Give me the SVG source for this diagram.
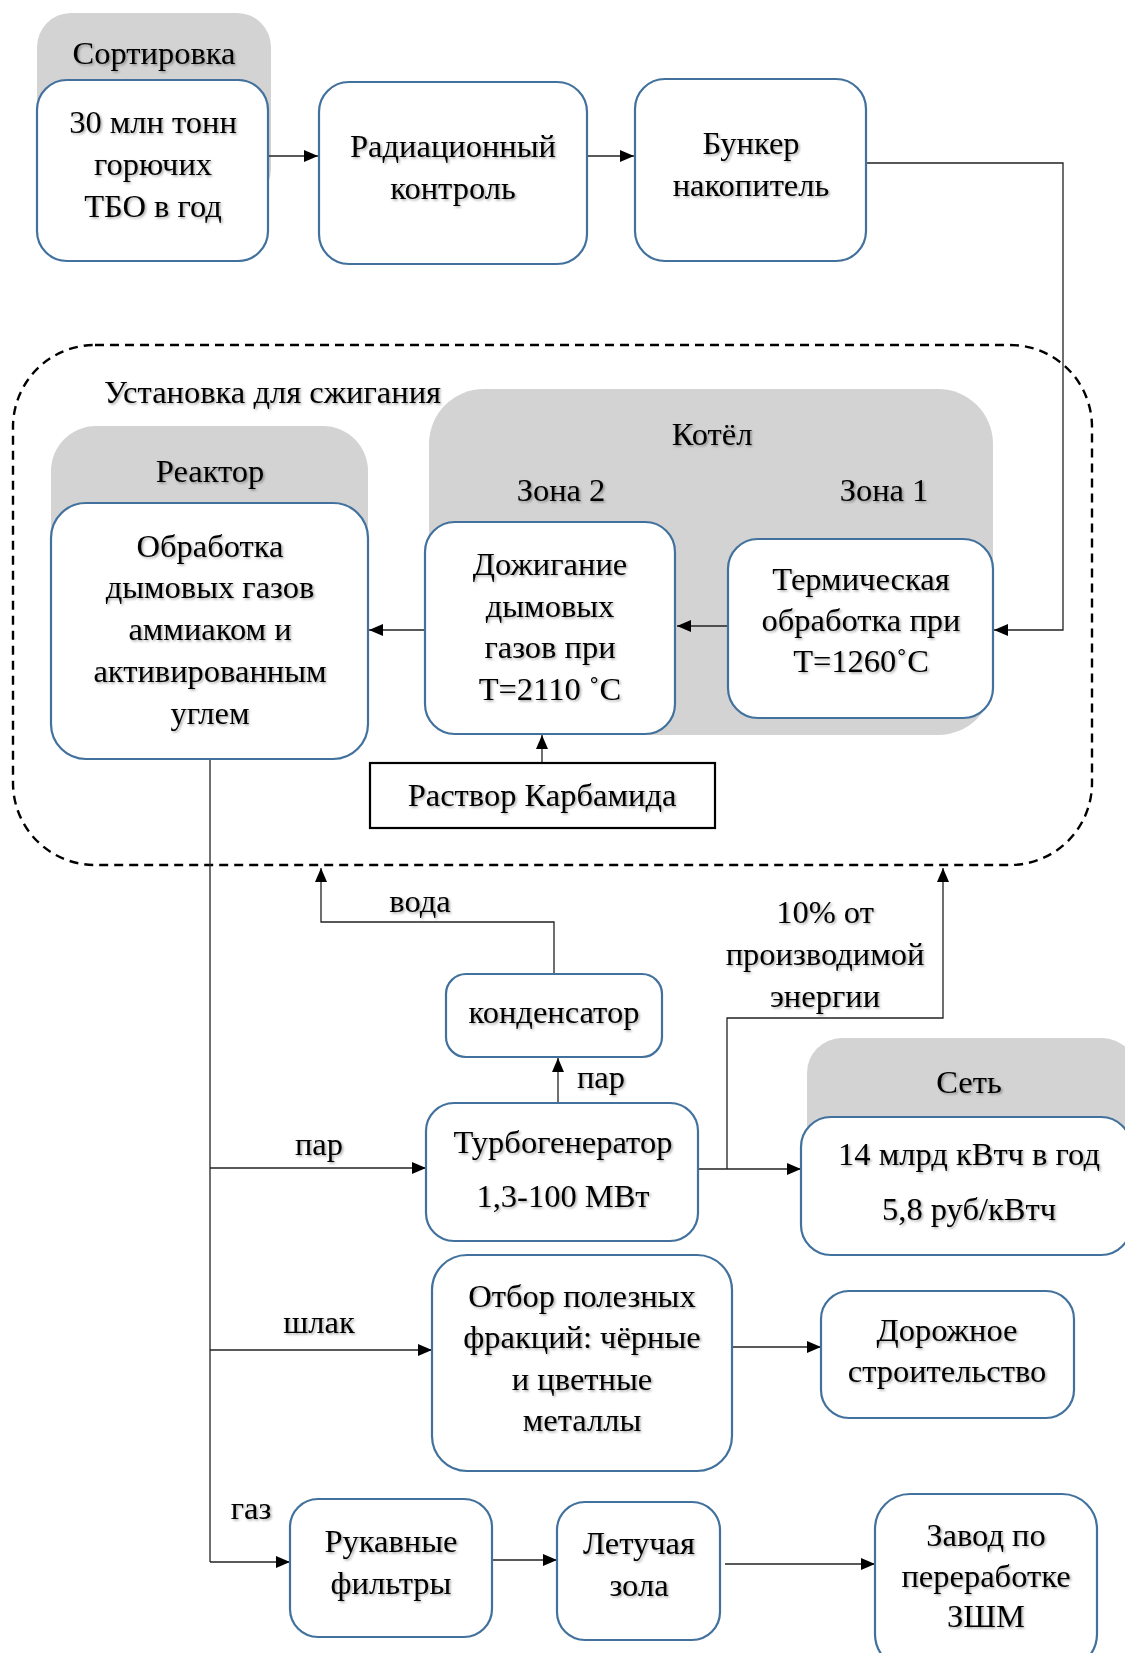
<svg xmlns="http://www.w3.org/2000/svg" width="1125" height="1653" viewBox="0 0 1125 1653">
  <defs>
    <style>
      .box { fill: #ffffff; stroke: #41719C; stroke-width: 2.2; }
      .grp { fill: #D3D3D3; stroke: none; }
      .plain { fill: #ffffff; stroke: #000000; stroke-width: 2.2; }
      .frame { fill: none; stroke: #000000; stroke-width: 2.4; stroke-dasharray: 9 6; }
      .wire { fill: none; stroke: #222222; stroke-width: 1.3; }
      text { font-family: "Liberation Serif", "Times New Roman", serif; font-size: 32.5px; fill: #000000; text-anchor: middle; filter: url(#shadow); }
      .left { text-anchor: start; }
    </style>
    <filter id="shadow" x="-10%" y="-30%" width="120%" height="160%">
      <feDropShadow dx="1.5" dy="1.5" stdDeviation="1" flood-color="#000000" flood-opacity="0.35"/>
    </filter>
    <marker id="arrow" markerUnits="userSpaceOnUse" markerWidth="16" markerHeight="16" viewBox="0 0 16 16" refX="15" refY="8" orient="auto">
      <path d="M1,2 L15,8 L1,14 Z" fill="#000000"/>
    </marker>
  </defs>

  <!-- outer dashed boundary of the incineration plant -->
  <rect class="frame" x="13" y="345" width="1079" height="520" rx="82" ry="82"/>
  <text class="left" x="104" y="403">Установка для сжигания</text>

  <!-- group backgrounds -->
  <g id="sort-group">
    <rect class="grp" x="37" y="13" width="234" height="190" rx="34"/>
    <text x="154" y="64">Сортировка</text>
  </g>
  <g id="boiler-group">
    <rect class="grp" x="429" y="389" width="564" height="346" rx="55"/>
    <text x="712" y="445">Котёл</text>
    <text x="561" y="501">Зона 2</text>
    <text x="884" y="501">Зона 1</text>
  </g>
  <g id="reactor-group">
    <rect class="grp" x="51" y="426" width="317" height="200" rx="45"/>
    <text x="210" y="482">Реактор</text>
  </g>
  <g id="grid-group">
    <rect class="grp" x="807" y="1038" width="330" height="200" rx="35"/>
    <text x="969" y="1093">Сеть</text>
  </g>

  <!-- connectors -->
  <g id="connectors">
    <path class="wire" d="M268,156 H318" marker-end="url(#arrow)"/>
    <path class="wire" d="M587,156 H634" marker-end="url(#arrow)"/>
    <path class="wire" d="M866,163 H1063 V630 H994" marker-end="url(#arrow)"/>
    <path class="wire" d="M727,626 H677" marker-end="url(#arrow)"/>
    <path class="wire" d="M425,630 H369" marker-end="url(#arrow)"/>
    <path class="wire" d="M542,763 V735" marker-end="url(#arrow)"/>
    <path class="wire" d="M210,746 V1562"/>
    <path class="wire" d="M210,1168 H426" marker-end="url(#arrow)"/>
    <path class="wire" d="M210,1350 H432" marker-end="url(#arrow)"/>
    <path class="wire" d="M210,1562 H290" marker-end="url(#arrow)"/>
    <path class="wire" d="M558,1103 V1058" marker-end="url(#arrow)"/>
    <path class="wire" d="M554,974 V922 H321 V868" marker-end="url(#arrow)"/>
    <path class="wire" d="M699,1169 H801" marker-end="url(#arrow)"/>
    <path class="wire" d="M727,1169 V1018 H943 V868" marker-end="url(#arrow)"/>
    <path class="wire" d="M733,1347 H821" marker-end="url(#arrow)"/>
    <path class="wire" d="M492,1560 H557" marker-end="url(#arrow)"/>
    <path class="wire" d="M725,1564 H875" marker-end="url(#arrow)"/>
    <text x="420" y="912">вода</text>
    <text x="601" y="1088">пар</text>
    <text x="319" y="1155">пар</text>
    <text x="319" y="1333">шлак</text>
    <text x="251" y="1519">газ</text>
    <text x="825" y="923">10% от</text>
    <text x="825" y="965">производимой</text>
    <text x="825" y="1007">энергии</text>
  </g>

  <!-- process nodes -->
  <g id="waste">
    <rect class="box" x="37" y="80" width="231" height="181" rx="30"/>
    <text x="153" y="133">30 млн тонн</text>
    <text x="153" y="175">горючих</text>
    <text x="153" y="217">ТБО в год</text>
  </g>
  <g id="radiation">
    <rect class="box" x="319" y="82" width="268" height="182" rx="30"/>
    <text x="453" y="157">Радиационный</text>
    <text x="453" y="199">контроль</text>
  </g>
  <g id="bunker">
    <rect class="box" x="635" y="79" width="231" height="182" rx="30"/>
    <text x="751" y="154">Бункер</text>
    <text x="751" y="196">накопитель</text>
  </g>
  <g id="zone1">
    <rect class="box" x="728" y="539" width="265" height="179" rx="30"/>
    <text x="861" y="590">Термическая</text>
    <text x="861" y="631">обработка при</text>
    <text x="861" y="672">T=1260˚C</text>
  </g>
  <g id="zone2">
    <rect class="box" x="425" y="522" width="250" height="212" rx="30"/>
    <text x="550" y="575">Дожигание</text>
    <text x="550" y="617">дымовых</text>
    <text x="550" y="658">газов при</text>
    <text x="550" y="700">T=2110 ˚C</text>
  </g>
  <g id="reactor">
    <rect class="box" x="51" y="503" width="317" height="256" rx="35"/>
    <text x="210" y="557">Обработка</text>
    <text x="210" y="598">дымовых газов</text>
    <text x="210" y="640">аммиаком и</text>
    <text x="210" y="682">активированным</text>
    <text x="210" y="724">углем</text>
  </g>
  <g id="urea">
    <rect class="plain" x="370" y="763" width="345" height="65"/>
    <text x="542" y="806">Раствор Карбамида</text>
  </g>
  <g id="condenser">
    <rect class="box" x="446" y="974" width="216" height="83" rx="20"/>
    <text x="554" y="1023">конденсатор</text>
  </g>
  <g id="turbine">
    <rect class="box" x="426" y="1103" width="272" height="138" rx="28"/>
    <text x="563" y="1153">Турбогенератор</text>
    <text x="563" y="1207">1,3-100 МВт</text>
  </g>
  <g id="grid">
    <rect class="box" x="801" y="1117" width="330" height="138" rx="30"/>
    <text x="969" y="1165">14 млрд кВтч в год</text>
    <text x="969" y="1220">5,8 руб/кВтч</text>
  </g>
  <g id="metals">
    <rect class="box" x="432" y="1255" width="300" height="216" rx="35"/>
    <text x="582" y="1307">Отбор полезных</text>
    <text x="582" y="1348">фракций: чёрные</text>
    <text x="582" y="1390">и цветные</text>
    <text x="582" y="1431">металлы</text>
  </g>
  <g id="roads">
    <rect class="box" x="821" y="1291" width="253" height="127" rx="28"/>
    <text x="947" y="1341">Дорожное</text>
    <text x="947" y="1382">строительство</text>
  </g>
  <g id="filters">
    <rect class="box" x="290" y="1499" width="202" height="138" rx="28"/>
    <text x="391" y="1552">Рукавные</text>
    <text x="391" y="1594">фильтры</text>
  </g>
  <g id="flyash">
    <rect class="box" x="557" y="1502" width="163" height="138" rx="28"/>
    <text x="639" y="1554">Летучая</text>
    <text x="639" y="1596">зола</text>
  </g>
  <g id="ash-plant">
    <rect class="box" x="875" y="1494" width="222" height="175" rx="35"/>
    <text x="986" y="1546">Завод по</text>
    <text x="986" y="1587">переработке</text>
    <text x="986" y="1627">ЗШМ</text>
  </g>
</svg>
